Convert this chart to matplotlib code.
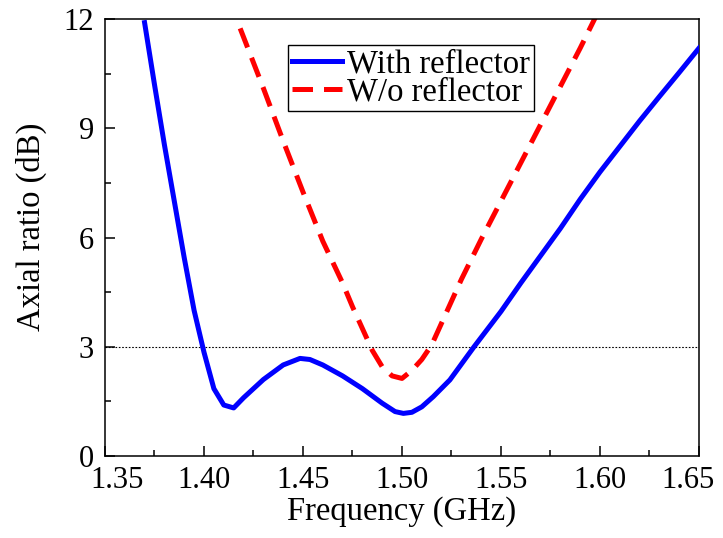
import matplotlib
matplotlib.use("Agg")
import matplotlib.pyplot as plt
import matplotlib.transforms as mtransforms
from matplotlib.ticker import MultipleLocator, FormatStrFormatter

plt.rcParams['font.family'] = ['Liberation Serif', 'DejaVu Serif']

# with reflector (blue solid)
f_with = [1.370, 1.375, 1.380, 1.385, 1.390, 1.395, 1.400, 1.405, 1.410,
          1.415, 1.420, 1.430, 1.440, 1.4485, 1.4535, 1.460, 1.470, 1.480,
          1.490, 1.4965, 1.5007, 1.505, 1.510, 1.5158, 1.5242, 1.5364, 1.550,
          1.560, 1.570, 1.580, 1.590, 1.600, 1.610, 1.620, 1.630, 1.640, 1.650]
ar_with = [11.9, 10.2, 8.55, 7.0, 5.45, 4.0, 2.85, 1.85, 1.4,
           1.32, 1.6, 2.1, 2.5, 2.68, 2.65, 2.5, 2.2, 1.85,
           1.45, 1.22, 1.17, 1.2, 1.35, 1.63, 2.09, 3.0, 3.97,
           4.75, 5.5, 6.25, 7.05, 7.8, 8.5, 9.2, 9.87, 10.53, 11.2]

# without reflector (red dashed)
f_wo = [1.410, 1.415, 1.420, 1.430, 1.440, 1.450, 1.460, 1.470, 1.475,
        1.480, 1.485, 1.490, 1.495, 1.500, 1.505, 1.510, 1.515, 1.520,
        1.525, 1.530, 1.540, 1.550, 1.560, 1.570, 1.580, 1.590, 1.600]
ar_wo = [12.9, 12.2, 11.5, 10.1, 8.65, 7.25, 5.9, 4.75, 4.1,
         3.5, 2.9, 2.45, 2.2, 2.13, 2.35, 2.65, 3.05, 3.65,
         4.25, 4.85, 5.95, 7.0, 8.05, 9.1, 10.15, 11.2, 12.3]

fig = plt.figure(figsize=(7.23, 5.38), dpi=100)
ax = fig.add_axes([0.1452, 0.1524, 0.8216, 0.8123])

ax.axhline(3, color='black', lw=0.8, ls=(0, (1.5, 1.5)), zorder=1)
ax.plot(f_with, ar_with, color='#0000ff', lw=3.6, label='With reflector', zorder=3)
ax.plot(f_wo, ar_wo, color='#ff0000', lw=3.6, ls=(0, (4.1, 2.2)),
        label='W/o reflector', zorder=2)

ax.set_xlim(1.35, 1.65)
ax.set_ylim(0, 12)
ax.xaxis.set_major_locator(MultipleLocator(0.05))
ax.xaxis.set_minor_locator(MultipleLocator(0.025))
ax.yaxis.set_major_locator(MultipleLocator(3))
ax.yaxis.set_minor_locator(MultipleLocator(1.5))
ax.xaxis.set_major_formatter(FormatStrFormatter('%.2f'))

ax.tick_params(which='both', direction='in', top=False, right=False, width=1.1)
ax.tick_params(axis='x', labelsize=22, pad=7)
ax.tick_params(axis='y', labelsize=22, pad=8)
ax.tick_params(which='major', length=7)
ax.tick_params(which='minor', length=4)
for s in ax.spines.values():
    s.set_linewidth(1.1)

ax.set_xlabel('Frequency (GHz)', fontsize=23.5)
ax.set_ylabel('Axial ratio (dB)', fontsize=23.5)
ax.xaxis.set_label_coords(0.499, -0.093)
ax.yaxis.set_label_coords(-0.098, 0.524)

leg = ax.legend(loc='upper left', bbox_to_anchor=(0.308, 0.94), fontsize=23.5,
                frameon=True, fancybox=False, edgecolor='black', framealpha=1,
                handlelength=1.55, handletextpad=0.15, labelspacing=-0.08,
                borderpad=0.12, borderaxespad=0)
leg.get_frame().set_linewidth(1.0)

# first/last x tick labels sit a bit inward in the original
fig.canvas.draw()
for t in ax.xaxis.get_major_ticks():
    loc = t.get_loc()
    if loc is None:
        continue
    if abs(loc - 1.35) < 1e-6:
        t.label1.set_transform(t.label1.get_transform() +
                               mtransforms.ScaledTranslation(0.12, 0, fig.dpi_scale_trans))
    elif abs(loc - 1.65) < 1e-6:
        t.label1.set_transform(t.label1.get_transform() +
                               mtransforms.ScaledTranslation(-0.11, 0, fig.dpi_scale_trans))

fig.savefig('out.png', dpi=100)
